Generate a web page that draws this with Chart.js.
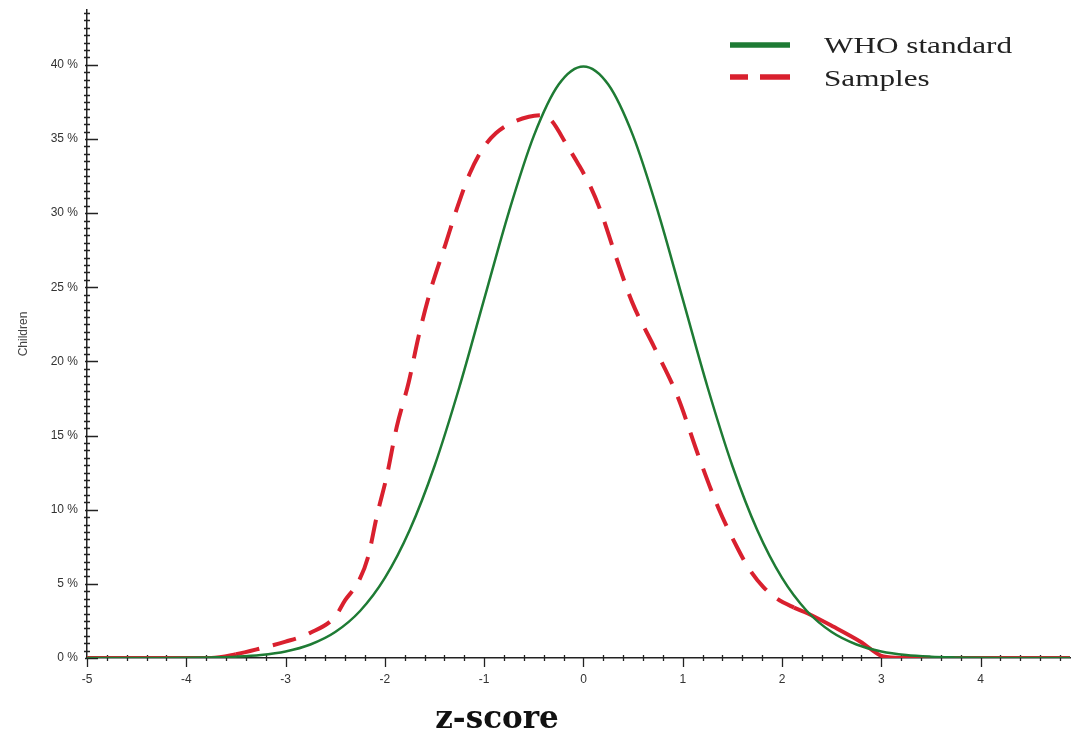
<!DOCTYPE html>
<html>
<head>
<meta charset="utf-8">
<script src="https://cdn.jsdelivr.net/npm/chart.js@4.4.1/dist/chart.umd.min.js"></script>
<style>
    html, body { margin: 0; padding: 0; background: #fff; }
    #wrap { width: 1073px; height: 735px; }
</style>
</head>
<body>
<div id="wrap"><canvas id="chart-area" width="1073" height="735"></canvas></div>
<script>
//values: z-score -> % of children

//WHO standard (green, solid)
var whoZ = [-5, -4.75, -4.5, -4.25, -4, -3.75, -3.5, -3.25, -3, -2.75, -2.5, -2.25, -2, -1.75, -1.5, -1.25, -1, -0.75, -0.5, -0.25,
    0, 0.25, 0.5, 0.75, 1, 1.25, 1.5, 1.75, 2, 2.25, 2.5, 2.75, 3, 3.25, 3.5, 3.75, 4, 4.25, 4.5, 4.75, 4.9];
var whoPct = [0, 0, 0, 0, 0.01, 0.04, 0.09, 0.2, 0.44, 0.91, 1.75, 3.17, 5.4, 8.63, 12.95, 18.26, 24.2, 30.11, 35.21, 38.67,
    39.89, 38.67, 35.21, 30.11, 24.2, 18.26, 12.95, 8.63, 5.4, 3.17, 1.75, 0.91, 0.44, 0.2, 0.09, 0.04, 0.01, 0, 0, 0, 0];

//Samples (red, dashed)
var sampleZ = [-5, -4.5, -4, -3.75, -3.5, -3.25, -3, -2.75, -2.5, -2.4, -2.27, -2.17, -2.08, -1.98, -1.88, -1.76, -1.66, -1.54, -1.39,
    -1.27, -1.15, -1.02, -0.88, -0.72, -0.55, -0.42, -0.33, -0.16, -0.06, 0.07, 0.17, 0.32, 0.49, 0.71, 0.95, 1.16, 1.36,
    1.56, 1.66, 1.81, 1.95, 2.12, 2.26, 2.52, 2.79, 3.02, 3.2, 4, 4.9];
var samplePct = [0, 0, 0, 0, 0.25, 0.65, 1.1, 1.7, 2.8, 3.9, 5.1, 6.8, 9.6, 12.3, 15.6, 18.6, 21.7, 24.8, 27.9,
    30.4, 32.6, 34.3, 35.4, 36.1, 36.5, 36.6, 36.3, 34.5, 33.4, 31.8, 30.2, 27.2, 24.0, 21.0, 17.6, 13.6, 10.1,
    7.3, 6.1, 4.8, 4.0, 3.4, 3.0, 2.1, 1.1, 0.1, 0, 0, 0];

var seriesLabels = ['WHO standard', 'Samples'];
var xTitle = 'z-score';
var yTitle = 'Children';

var AXIS_COLOR = '#222';
var GREEN = '#1e7b34';
var RED = '#d9202e';

function toPoints(xs, ys) {
    var pts = [];
    for (var i = 0; i < xs.length; i++) {
        pts.push({ x: xs[i], y: ys[i] });
    }
    return pts;
}

//minor + major tick marks, drawn on the axes (chart.js can't do minor ticks)
var axisTicksPlugin = {
    id: 'axisTicks',
    beforeDatasetsDraw: function (chart) {
        var ctx = chart.ctx;
        var xs = chart.scales.x;
        var ys = chart.scales.y;
        var left = chart.chartArea.left;
        var bottom = chart.chartArea.bottom;
        ctx.save();
        ctx.strokeStyle = AXIS_COLOR;
        ctx.lineWidth = 1.3;
        ctx.beginPath();
        //y axis: major every 5 (inside), minor every 0.5
        for (var i = 0; i * 0.5 <= ys.max + 0.001; i++) {
            var py = Math.round(ys.getPixelForValue(i * 0.5)) + 0.5;
            if (i % 10 === 0) {
                ctx.moveTo(left - 2, py);
                ctx.lineTo(left + 11, py);
            } else {
                ctx.moveTo(left - 3, py);
                ctx.lineTo(left + 3, py);
            }
        }
        //x axis: major every 1 (below), minor every 0.2
        for (var j = 0; xs.min + j * 0.2 <= xs.max + 0.001; j++) {
            var px = Math.round(xs.getPixelForValue(xs.min + j * 0.2)) + 0.5;
            if (j % 5 === 0) {
                ctx.moveTo(px, bottom - 1);
                ctx.lineTo(px, bottom + 9);
            } else {
                ctx.moveTo(px, bottom - 3);
                ctx.lineTo(px, bottom + 3);
            }
        }
        ctx.stroke();
        ctx.restore();
    }
};

//legend in the top right corner, built from the datasets
var sideLegendPlugin = {
    id: 'sideLegend',
    afterDraw: function (chart) {
        var ctx = chart.ctx;
        var rowsY = [45, 77];
        var baseY = [53, 86];
        chart.data.datasets.forEach(function (ds, idx) {
            ctx.save();
            ctx.strokeStyle = ds.borderColor;
            ctx.lineWidth = 5.5;
            ctx.lineCap = 'butt';
            if (ds.borderDash) {
                ctx.setLineDash([18, 12, 30, 0]);
            }
            ctx.beginPath();
            ctx.moveTo(730, rowsY[idx]);
            ctx.lineTo(790, rowsY[idx]);
            ctx.stroke();
            ctx.restore();

            ctx.save();
            ctx.fillStyle = '#222';
            ctx.font = '24px "Liberation Serif", serif';
            ctx.textBaseline = 'alphabetic';
            ctx.translate(824, baseY[idx]);
            ctx.scale(1.3, 1);
            ctx.fillText(ds.label, 0, 0);
            ctx.restore();
        });
    }
};

//big bold axis title, not centred on the plot in the original
var xTitlePlugin = {
    id: 'xTitle',
    afterDraw: function (chart) {
        var ctx = chart.ctx;
        ctx.save();
        ctx.fillStyle = '#111';
        ctx.font = 'bold 31px "DejaVu Serif", serif';
        ctx.textAlign = 'center';
        ctx.textBaseline = 'alphabetic';
        ctx.fillText(xTitle, 497, 728);
        ctx.restore();
    }
};

var chart = new Chart(document.getElementById('chart-area').getContext('2d'), {
    type: 'line',
    plugins: [axisTicksPlugin, sideLegendPlugin, xTitlePlugin],
    data: {
        datasets: [{
            label: seriesLabels[0],
            data: toPoints(whoZ, whoPct),
            borderColor: GREEN,
            borderWidth: 2.5,
            pointRadius: 0,
            cubicInterpolationMode: 'monotone',
            fill: false,
        }, {
            label: seriesLabels[1],
            data: toPoints(sampleZ, samplePct),
            borderColor: RED,
            borderWidth: 4,
            borderDash: [24, 14],
            pointRadius: 0,
            cubicInterpolationMode: 'monotone',
            fill: false,
            segment: {
                //tails are drawn solid in the original
                borderDash: function (ctx) {
                    var x0 = ctx.p0.parsed.x;
                    return (x0 < -3.6 || x0 >= 2.1) ? [] : undefined;
                }
            }
        }]
    },
    options: {
        responsive: false,
        animation: false,
        layout: {
            padding: { top: 10, right: 3, left: 0, bottom: 0 }
        },
        plugins: {
            legend: { display: false },
            tooltip: { enabled: false }
        },
        scales: {
            x: {
                type: 'linear',
                min: -5,
                max: 4.9,
                afterFit: function (scale) {
                    scale.height = 77;
                    scale.paddingLeft = 0;
                    scale.paddingRight = 0;
                },
                afterBuildTicks: function (scale) {
                    scale.ticks = scale.ticks.filter(function (t) { return Number.isInteger(t.value); });
                },
                ticks: {
                    stepSize: 1,
                    padding: 14,
                    maxRotation: 0,
                    autoSkip: false,
                    color: '#333',
                    font: { family: '"Liberation Sans", Arial, sans-serif', size: 12 }
                },
                grid: { display: false, drawTicks: false },
                border: { display: true, color: AXIS_COLOR, width: 1.5 },
                title: { display: false }
            },
            y: {
                type: 'linear',
                min: 0,
                max: 43.7,
                afterFit: function (scale) {
                    scale.width = 87;
                    scale.paddingTop = 0;
                    scale.paddingBottom = 0;
                },
                afterBuildTicks: function (scale) {
                    scale.ticks = scale.ticks.filter(function (t) { return t.value % 5 === 0; });
                },
                ticks: {
                    stepSize: 5,
                    padding: 9,
                    autoSkip: false,
                    color: '#333',
                    font: { family: '"Liberation Sans", Arial, sans-serif', size: 12 },
                    callback: function (v) { return v + ' %'; }
                },
                grid: { display: false, drawTicks: false },
                border: { display: true, color: AXIS_COLOR, width: 1.5 },
                title: {
                    display: true,
                    text: yTitle,
                    color: '#444',
                    font: { family: '"Liberation Sans", Arial, sans-serif', size: 12 },
                    padding: { top: 16, bottom: 0 }
                }
            }
        }
    }
});
</script>
</body>
</html>
